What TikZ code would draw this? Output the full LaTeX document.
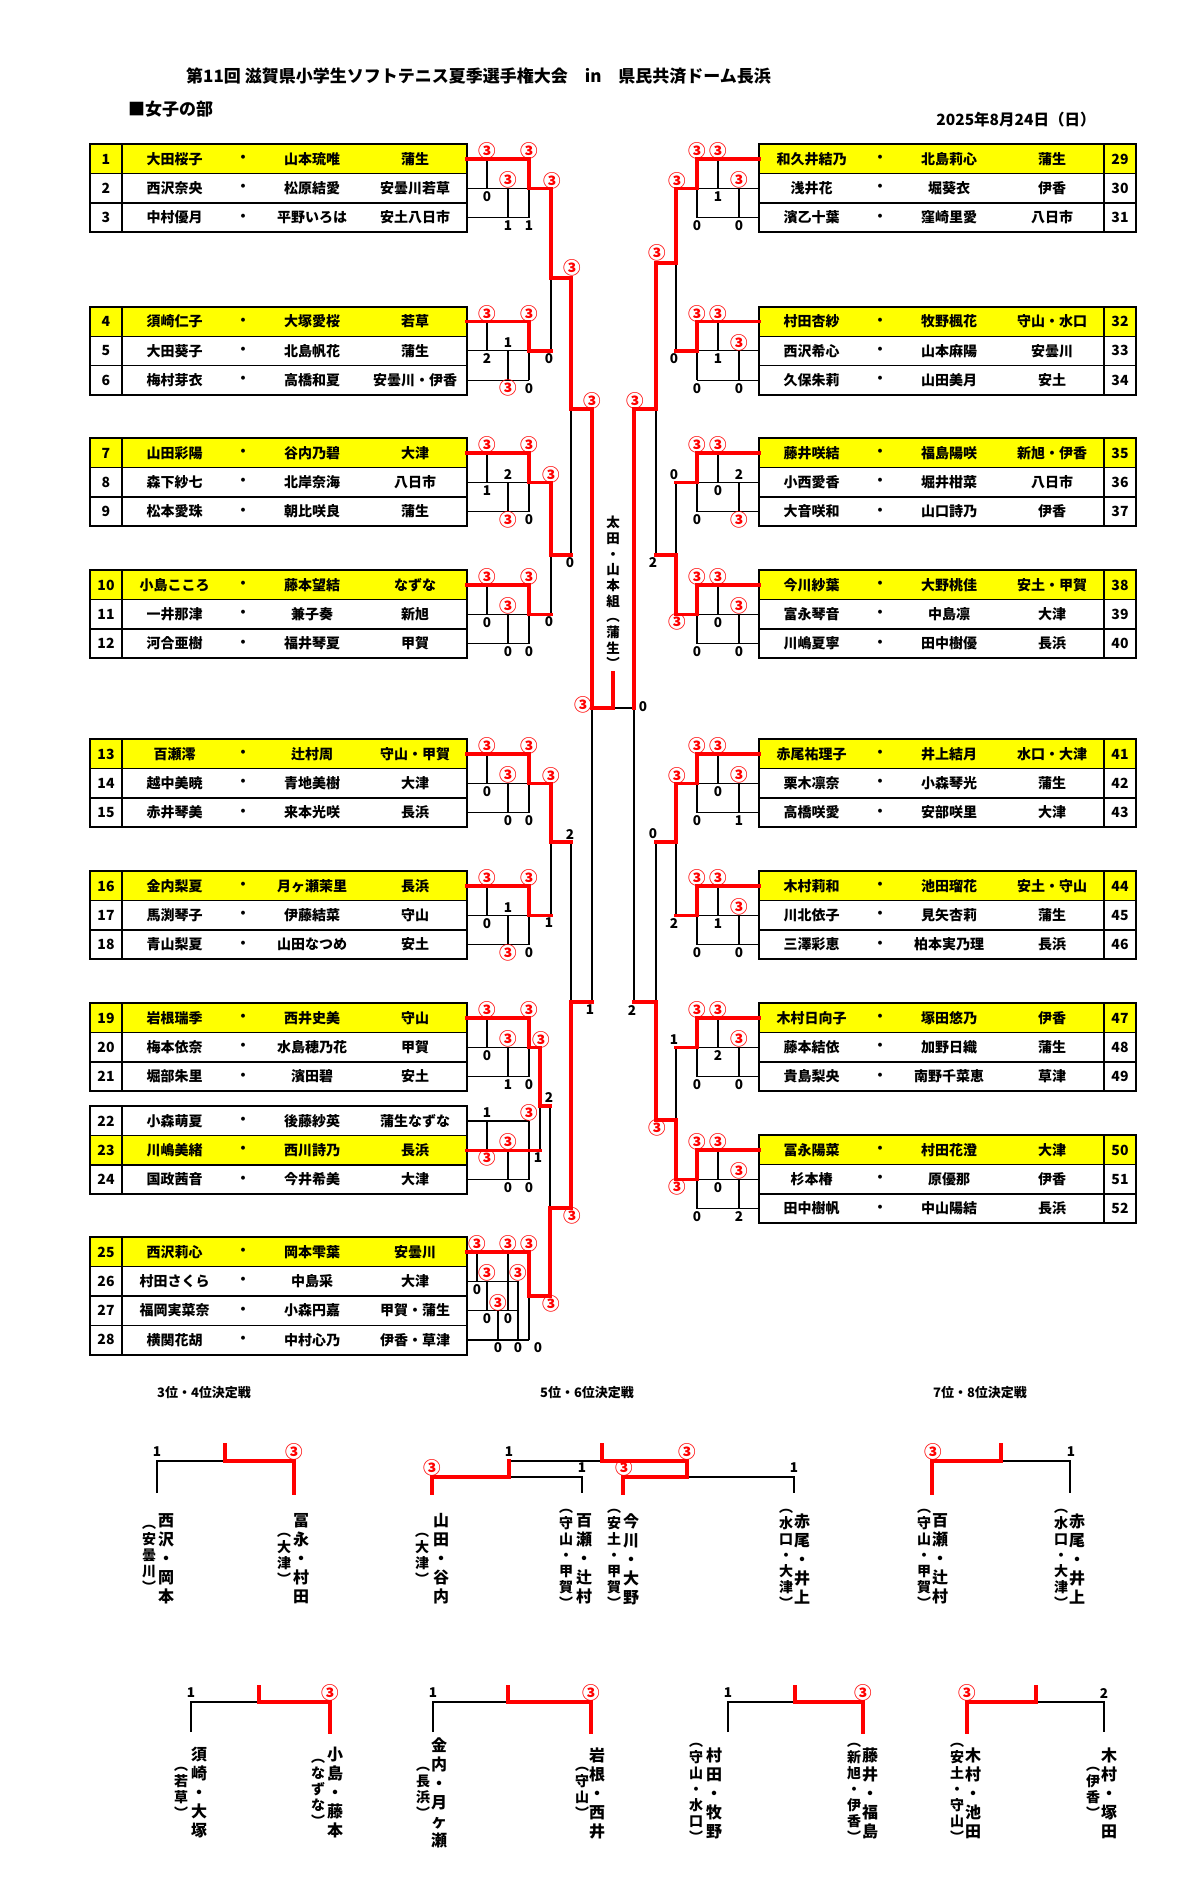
\documentclass[tikz,border=0pt]{standalone}
\usepackage{fontspec}
\newfontfamily\jp{Noto Sans CJK JP}
\usetikzlibrary{calc}
\definecolor{winred}{RGB}{255,0,0}
\definecolor{seed}{RGB}{255,255,0}
\tikzset{
  line/.style={black, line width=1.2pt},
  win/.style={winred, line width=3.5pt, line cap=rect},
  frame/.style={black, line width=2pt},
  tbl/.style={font=\jp\bfseries\fontsize{14}{16}\selectfont, inner sep=0pt},
  sc/.style={font=\jp\bfseries\fontsize{13.5}{15}\selectfont, inner sep=0pt},
  head/.style={font=\jp\bfseries\fontsize{17}{20}\selectfont, inner sep=0pt},
  sub/.style={font=\jp\bfseries\fontsize{13}{15}\selectfont, inner sep=0pt},
  champ/.style={font=\jp\bfseries\fontsize{13.5}{15.7}\selectfont, align=center, inner sep=0pt},
  vname/.style={font=\jp\bfseries\fontsize{16}{19}\selectfont, align=center, inner sep=0pt},
  vteam/.style={font=\jp\bfseries\fontsize{14}{16}\selectfont, align=center, inner sep=0pt}
}
\newcommand{\wthree}{\textcolor{winred}{\fontsize{17.5}{18}\selectfont ③}}
% table rows: number, y, player, partner, team, fill
\newcommand{\lrow}[6]{%
  \filldraw[fill=#6, draw=black, line width=1.2pt] (90,{#2-14.65}) rectangle (467,{#2+14.65});
  \draw[line] (122,{#2-14.65}) -- (122,{#2+14.65});
  \node[tbl] (no#1) at (106,#2) {#1};
  \node[tbl] (pa#1) at (174.5,#2) {#3};
  \node[tbl] (dt#1) at (243,#2) {・};
  \node[tbl] (pb#1) at (312,#2) {#4};
  \node[tbl] (tm#1) at (415,#2) {#5};
}
\newcommand{\rrow}[6]{%
  \filldraw[fill=#6, draw=black, line width=1.2pt] (759,{#2-14.65}) rectangle (1136,{#2+14.65});
  \draw[line] (1104,{#2-14.65}) -- (1104,{#2+14.65});
  \node[tbl] (no#1) at (1120,#2) {#1};
  \node[tbl] (pa#1) at (811.5,#2) {#3};
  \node[tbl] (dt#1) at (880,#2) {・};
  \node[tbl] (pb#1) at (949,#2) {#4};
  \node[tbl] (tm#1) at (1052,#2) {#5};
}
\newcommand{\lframe}[2]{\draw[frame] (90,{#1-14.65}) rectangle (467,{#2+14.65});}
\newcommand{\rframe}[2]{\draw[frame] (759,{#1-14.65}) rectangle (1136,{#2+14.65});}
% league of three, left side: tag, y of first row, scores, exit x
\newcommand{\lgrp}[9]{%
  \draw[line] (467,{#2+29.3}) -- (529,{#2+29.3}) (467,{#2+58.6}) -- (529,{#2+58.6})
    (487,#2) -- (487,{#2+29.3}) (508,{#2+29.3}) -- (508,{#2+58.6}) (529,{#2+29.3}) -- (529,{#2+58.6});
  \draw[win] (467,#2) -- (529,#2) -- (529,{#2+29.3}) -- (#9,{#2+29.3});
  \node[sc] (#1at) at (487,{#2-8}) {#3};
  \node[sc] (#1ab) at (487,{#2+37.3}) {#4};
  \node[sc] (#1bt) at (508,{#2+21.3}) {#5};
  \node[sc] (#1bb) at (508,{#2+66.6}) {#6};
  \node[sc] (#1ct) at (529,{#2-8}) {#7};
  \node[sc] (#1cb) at (529,{#2+66.6}) {#8};
}
% league of three, right side: tag, y of first row, scores
\newcommand{\rgrp}[8]{%
  \draw[line] (759,{#2+29.3}) -- (697,{#2+29.3}) (759,{#2+58.6}) -- (697,{#2+58.6})
    (718,#2) -- (718,{#2+29.3}) (739,{#2+29.3}) -- (739,{#2+58.6}) (697,{#2+29.3}) -- (697,{#2+58.6});
  \draw[win] (759,#2) -- (697,#2) -- (697,{#2+29.3}) -- (676,{#2+29.3});
  \node[sc] (#1pt) at (697,{#2-8}) {#3};
  \node[sc] (#1pb) at (697,{#2+66.6}) {#4};
  \node[sc] (#1qt) at (718,{#2-8}) {#5};
  \node[sc] (#1qb) at (718,{#2+37.3}) {#6};
  \node[sc] (#1rt) at (739,{#2+21.3}) {#7};
  \node[sc] (#1rb) at (739,{#2+66.6}) {#8};
}

\begin{document}
\begin{tikzpicture}[x=1pt,y=-1pt]
\useasboundingbox (0,0) rectangle (1200,1892);
\fill[white] (0,0) rectangle (1200,1892);

% heading
\node[head, anchor=west] (title) at (186,76) {第11回 滋賀県小学生ソフトテニス夏季選手権大会　in　県民共済ドーム長浜};
\node[head, anchor=west] (part) at (128,109) {■女子の部};
\node[sub, font=\jp\bfseries\fontsize{15.5}{17}\selectfont] (day) at (1016,120) {2025年8月24日（日）};

% left tables
\lrow{1}{159}{大田桜子}{山本琉唯}{蒲生}{seed}
\lrow{2}{188.3}{西沢奈央}{松原結愛}{安曇川若草}{white}
\lrow{3}{217.6}{中村優月}{平野いろは}{安土八日市}{white}
\lframe{159}{217.6}
\lrow{4}{321.5}{須崎仁子}{大塚愛桜}{若草}{seed}
\lrow{5}{350.8}{大田葵子}{北島帆花}{蒲生}{white}
\lrow{6}{380.1}{梅村芽衣}{高橋和夏}{安曇川・伊香}{white}
\lframe{321.5}{380.1}
\lrow{7}{453}{山田彩陽}{谷内乃碧}{大津}{seed}
\lrow{8}{482.3}{森下紗七}{北岸奈海}{八日市}{white}
\lrow{9}{511.6}{松本愛珠}{朝比咲良}{蒲生}{white}
\lframe{453}{511.6}
\lrow{10}{585}{小島こころ}{藤本望結}{なずな}{seed}
\lrow{11}{614.3}{一井那津}{兼子奏}{新旭}{white}
\lrow{12}{643.6}{河合亜樹}{福井琴夏}{甲賀}{white}
\lframe{585}{643.6}
\lrow{13}{754}{百瀬澪}{辻村周}{守山・甲賀}{seed}
\lrow{14}{783.3}{越中美暁}{青地美樹}{大津}{white}
\lrow{15}{812.6}{赤井琴美}{来本光咲}{長浜}{white}
\lframe{754}{812.6}
\lrow{16}{886}{金内梨夏}{月ヶ瀬茉里}{長浜}{seed}
\lrow{17}{915.3}{馬渕琴子}{伊藤結菜}{守山}{white}
\lrow{18}{944.6}{青山梨夏}{山田なつめ}{安土}{white}
\lframe{886}{944.6}
\lrow{19}{1018}{岩根瑞季}{西井史美}{守山}{seed}
\lrow{20}{1047.3}{梅本依奈}{水島穂乃花}{甲賀}{white}
\lrow{21}{1076.6}{堀部朱里}{濱田碧}{安土}{white}
\lframe{1018}{1076.6}
\lrow{22}{1121}{小森萌夏}{後藤紗英}{蒲生なずな}{white}
\lrow{23}{1150.3}{川嶋美緒}{西川詩乃}{長浜}{seed}
\lrow{24}{1179.6}{国政茜音}{今井希美}{大津}{white}
\lframe{1121}{1179.6}
\lrow{25}{1252}{西沢莉心}{岡本雫葉}{安曇川}{seed}
\lrow{26}{1281.3}{村田さくら}{中島采}{大津}{white}
\lrow{27}{1310.6}{福岡実菜奈}{小森円嘉}{甲賀・蒲生}{white}
\lrow{28}{1339.9}{横関花胡}{中村心乃}{伊香・草津}{white}
\lframe{1252}{1339.9}

% right tables
\rrow{29}{159}{和久井結乃}{北島莉心}{蒲生}{seed}
\rrow{30}{188.3}{浅井花}{堀葵衣}{伊香}{white}
\rrow{31}{217.6}{濱乙十葉}{窪崎里愛}{八日市}{white}
\rframe{159}{217.6}
\rrow{32}{321.5}{村田杏紗}{牧野楓花}{守山・水口}{seed}
\rrow{33}{350.8}{西沢希心}{山本麻陽}{安曇川}{white}
\rrow{34}{380.1}{久保朱莉}{山田美月}{安土}{white}
\rframe{321.5}{380.1}
\rrow{35}{453}{藤井咲結}{福島陽咲}{新旭・伊香}{seed}
\rrow{36}{482.3}{小西愛香}{堀井柑菜}{八日市}{white}
\rrow{37}{511.6}{大音咲和}{山口詩乃}{伊香}{white}
\rframe{453}{511.6}
\rrow{38}{585}{今川紗葉}{大野桃佳}{安土・甲賀}{seed}
\rrow{39}{614.3}{富永琴音}{中島凛}{大津}{white}
\rrow{40}{643.6}{川嶋夏寧}{田中樹優}{長浜}{white}
\rframe{585}{643.6}
\rrow{41}{754}{赤尾祐理子}{井上結月}{水口・大津}{seed}
\rrow{42}{783.3}{栗木凛奈}{小森琴光}{蒲生}{white}
\rrow{43}{812.6}{高橋咲愛}{安部咲里}{大津}{white}
\rframe{754}{812.6}
\rrow{44}{886}{木村莉和}{池田瑠花}{安土・守山}{seed}
\rrow{45}{915.3}{川北依子}{見矢杏莉}{蒲生}{white}
\rrow{46}{944.6}{三澤彩恵}{柏本実乃理}{長浜}{white}
\rframe{886}{944.6}
\rrow{47}{1018}{木村日向子}{塚田悠乃}{伊香}{seed}
\rrow{48}{1047.3}{藤本結依}{加野日織}{蒲生}{white}
\rrow{49}{1076.6}{貴島梨央}{南野千菜恵}{草津}{white}
\rframe{1018}{1076.6}
\rrow{50}{1150}{冨永陽菜}{村田花澄}{大津}{seed}
\rrow{51}{1179.3}{杉本椿}{原優那}{伊香}{white}
\rrow{52}{1208.6}{田中樹帆}{中山陽結}{長浜}{white}
\rframe{1150}{1208.6}

% knockout, black parts
\draw[line] (551,278) -- (551,350.8) (551,555) -- (551,614.3) (571,409) -- (571,555)
  (551,842) -- (551,915.3) (571,842) -- (571,1002) (540,1106) -- (540,1150.3)
  (550,1106) -- (550,1208) (592,708) -- (592,1002);
\draw[line] (676,263) -- (676,350.8) (676,482.3) -- (676,555) (656,409) -- (656,555)
  (676,842) -- (676,915.3) (676,1047.3) -- (676,1120) (656,842) -- (656,1002)
  (613,708) -- (634,708) (634,708) -- (634,1002);

% leagues
\lgrp{A}{159}{\wthree}{0}{\wthree}{1}{\wthree}{1}{551}
\lgrp{B}{321.5}{\wthree}{2}{1}{\wthree}{\wthree}{0}{551}
\lgrp{C}{453}{\wthree}{1}{2}{\wthree}{\wthree}{0}{551}
\lgrp{D}{585}{\wthree}{0}{\wthree}{0}{\wthree}{0}{551}
\lgrp{E}{754}{\wthree}{0}{\wthree}{0}{\wthree}{0}{551}
\lgrp{F}{886}{\wthree}{0}{1}{\wthree}{\wthree}{0}{551}
\lgrp{G}{1018}{\wthree}{0}{\wthree}{1}{\wthree}{0}{540}

% league 22-24
\draw[line] (467,1121) -- (529,1121) (467,1179.6) -- (529,1179.6)
  (487,1121) -- (487,1150.3) (508,1150.3) -- (508,1179.6) (529,1121) -- (529,1179.6);
\draw[win] (467,1150.3) -- (540,1150.3);
\node[sc] (Hat) at (487,1113) {1};
\node[sc] (Hab) at (487,1158) {\wthree};
\node[sc] (Hbt) at (508,1142) {\wthree};
\node[sc] (Hbb) at (508,1187.6) {0};
\node[sc] (Hct) at (529,1113) {\wthree};
\node[sc] (Hcb) at (529,1187.6) {0};

% league 25-28
\draw[line] (467,1281.3) -- (518,1281.3) (467,1310.6) -- (518,1310.6) (467,1339.9) -- (529,1339.9)
  (477,1252) -- (477,1281.3) (487,1281.3) -- (487,1310.6) (498,1310.6) -- (498,1339.9)
  (508,1252) -- (508,1310.6) (518,1281.3) -- (518,1339.9) (529,1296) -- (529,1339.9);
\draw[win] (467,1252) -- (529,1252) -- (529,1296) -- (550,1296);
\node[sc] (Iat) at (477,1244) {\wthree};
\node[sc] (Iab) at (477,1289.3) {0};
\node[sc] (Ibt) at (487,1273.3) {\wthree};
\node[sc] (Ibb) at (487,1318.6) {0};
\node[sc] (Ict) at (498,1302.6) {\wthree};
\node[sc] (Icb) at (498,1347.9) {0};
\node[sc] (Idt) at (508,1244) {\wthree};
\node[sc] (Idb) at (508,1318.6) {0};
\node[sc] (Iet) at (518,1273.3) {\wthree};
\node[sc] (Ieb) at (518,1347.9) {0};
\node[sc] (Ift) at (529,1244) {\wthree};
\node[sc] (Ifb) at (538,1347.9) {0};

\rgrp{R}{159}{\wthree}{0}{\wthree}{1}{\wthree}{0}
\rgrp{S}{321.5}{\wthree}{0}{\wthree}{1}{\wthree}{0}
\rgrp{T}{453}{\wthree}{0}{\wthree}{0}{2}{\wthree}
\rgrp{U}{585}{\wthree}{0}{\wthree}{0}{\wthree}{0}
\rgrp{V}{754}{\wthree}{0}{\wthree}{0}{\wthree}{1}
\rgrp{W}{886}{\wthree}{0}{\wthree}{1}{\wthree}{0}
\rgrp{X}{1018}{\wthree}{0}{\wthree}{2}{\wthree}{0}
\rgrp{Y}{1150}{\wthree}{0}{\wthree}{0}{\wthree}{2}

% knockout, winners
\draw[win] (551,188.3) -- (551,278) -- (571,278) -- (571,409) -- (592,409) -- (592,708) -- (613,708) -- (613,673);
\draw[win] (551,482.3) -- (551,555) -- (571,555);
\draw[win] (551,783.3) -- (551,842) -- (571,842);
\draw[win] (540,1047.3) -- (540,1106) -- (550,1106);
\draw[win] (550,1296) -- (550,1208) -- (571,1208) -- (571,1002) -- (592,1002);
\draw[win] (676,188.3) -- (676,263) -- (656,263) -- (656,409) -- (634,409) -- (634,708);
\draw[win] (676,614.3) -- (676,555) -- (656,555);
\draw[win] (676,783.3) -- (676,842) -- (656,842);
\draw[win] (676,1179.3) -- (676,1120) -- (656,1120) -- (656,1002) -- (634,1002);

\node[sc] (k1) at (552,181) {\wthree};
\node[sc] (k2) at (549,358.5) {0};
\node[sc] (k3) at (551,474.5) {\wthree};
\node[sc] (k4) at (549,622) {0};
\node[sc] (k5) at (572,268) {\wthree};
\node[sc] (k6) at (570,562.5) {0};
\node[sc] (k7) at (551,775.5) {\wthree};
\node[sc] (k8) at (549,923) {1};
\node[sc] (k9) at (541,1039.5) {\wthree};
\node[sc] (k10) at (538,1158) {1};
\node[sc] (k11) at (549,1097.5) {2};
\node[sc] (k12) at (551,1303.5) {\wthree};
\node[sc] (k13) at (570,834) {2};
\node[sc] (k14) at (572,1215.5) {\wthree};
\node[sc] (k15) at (592,401) {\wthree};
\node[sc] (k16) at (590,1010) {1};
\node[sc] (k17) at (583,705) {\wthree};
\node[sc] (k18) at (677,181) {\wthree};
\node[sc] (k19) at (674,358.5) {0};
\node[sc] (k20) at (674,475) {0};
\node[sc] (k21) at (677,622) {\wthree};
\node[sc] (k22) at (657,253) {\wthree};
\node[sc] (k23) at (653,562.5) {2};
\node[sc] (k24) at (677,775.5) {\wthree};
\node[sc] (k25) at (674,923) {2};
\node[sc] (k26) at (674,1040) {1};
\node[sc] (k27) at (677,1186.5) {\wthree};
\node[sc] (k28) at (653,834) {0};
\node[sc] (k29) at (657,1127.5) {\wthree};
\node[sc] (k30) at (635,401) {\wthree};
\node[sc] (k31) at (632,1010) {2};
\node[sc] (k32) at (643,707) {0};

% champion
\node[champ] (champ) at (613,592.5) {太\\田\\・\\山\\本\\組\\︵\\蒲\\生\\︶};

% placing matches, first row
\node[sub] (l34) at (204,1393) {3位・4位決定戦};
\node[sub] (l56) at (587,1393) {5位・6位決定戦};
\node[sub] (l78) at (980,1393) {7位・8位決定戦};

\draw[line] (157,1493) -- (157,1461) -- (225,1461);
\draw[win] (225,1445) -- (225,1461) -- (294,1461) -- (294,1493);
\node[sc] (p1) at (157,1452) {1};
\node[sc] (p2) at (294,1452) {\wthree};

\draw[line] (509,1477) -- (582,1477) -- (582,1493) (509,1461) -- (602,1461) (687,1477) -- (794,1477) -- (794,1493);
\draw[win] (432,1493) -- (432,1477) -- (509,1477) -- (509,1461);
\draw[win] (602,1445) -- (602,1461) -- (687,1461) -- (687,1477);
\draw[win] (623,1493) -- (623,1477) -- (687,1477);
\node[sc] (p3) at (432,1467.5) {\wthree};
\node[sc] (p4) at (582,1467.5) {1};
\node[sc] (p5) at (509,1452) {1};
\node[sc] (p6) at (687,1452) {\wthree};
\node[sc] (p7) at (624,1467.5) {\wthree};
\node[sc] (p8) at (794,1467.5) {1};

\draw[line] (1001,1461) -- (1070,1461) -- (1070,1493);
\draw[win] (932,1493) -- (932,1461) -- (1001,1461) -- (1001,1445);
\node[sc] (p9) at (933,1452) {\wthree};
\node[sc] (p10) at (1071,1452) {1};

\node[vname] (n1) at (166,1559) {西\\沢\\・\\岡\\本};
\node[vteam] (t1) at (149,1559) {︵\\安\\曇\\川\\︶};
\node[vname] (n2) at (301,1559) {冨\\永\\・\\村\\田};
\node[vteam] (t2) at (284,1559) {︵\\大\\津\\︶};
\node[vname] (n3) at (441,1559) {山\\田\\・\\谷\\内};
\node[vteam] (t3) at (422,1559) {︵\\大\\津\\︶};
\node[vname] (n4) at (584,1559) {百\\瀬\\・\\辻\\村};
\node[vteam] (t4) at (566,1559) {︵\\守\\山\\・\\甲\\賀\\︶};
\node[vname] (n5) at (631,1559) {今\\川\\・\\大\\野};
\node[vteam] (t5) at (614,1559) {︵\\安\\土\\・\\甲\\賀\\︶};
\node[vname] (n6) at (802,1559) {赤\\尾\\・\\井\\上};
\node[vteam] (t6) at (786,1559) {︵\\水\\口\\・\\大\\津\\︶};
\node[vname] (n7) at (940,1559) {百\\瀬\\・\\辻\\村};
\node[vteam] (t7) at (924,1559) {︵\\守\\山\\・\\甲\\賀\\︶};
\node[vname] (n8) at (1077,1559) {赤\\尾\\・\\井\\上};
\node[vteam] (t8) at (1061,1559) {︵\\水\\口\\・\\大\\津\\︶};

% placing matches, second row
\draw[line] (191,1732) -- (191,1702) -- (259,1702);
\draw[win] (259,1687) -- (259,1702) -- (330,1702) -- (330,1732);
\draw[line] (433,1732) -- (433,1702) -- (508,1702);
\draw[win] (508,1687) -- (508,1702) -- (591,1702) -- (591,1732);
\draw[line] (728,1732) -- (728,1702) -- (795,1702);
\draw[win] (795,1687) -- (795,1702) -- (863,1702) -- (863,1732);
\draw[line] (1036,1702) -- (1104,1702) -- (1104,1732);
\draw[win] (967,1732) -- (967,1702) -- (1036,1702) -- (1036,1687);
\node[sc] (q1) at (191,1693) {1};
\node[sc] (q2) at (330,1693) {\wthree};
\node[sc] (q3) at (433,1693) {1};
\node[sc] (q4) at (591,1693) {\wthree};
\node[sc] (q5) at (728,1693) {1};
\node[sc] (q6) at (863,1693) {\wthree};
\node[sc] (q7) at (967,1693) {\wthree};
\node[sc] (q8) at (1104,1693) {2};

\node[vname] (m1) at (199,1793) {須\\崎\\・\\大\\塚};
\node[vteam] (u1) at (181,1793) {︵\\若\\草\\︶};
\node[vname] (m2) at (335,1793) {小\\島\\・\\藤\\本};
\node[vteam] (u2) at (318,1793) {︵\\な\\ず\\な\\︶};
\node[vname] (m3) at (439,1793) {金\\内\\・\\月\\ヶ\\瀬};
\node[vteam] (u3) at (423,1793) {︵\\長\\浜\\︶};
\node[vname] (m4) at (597,1793) {岩\\根\\・\\西\\井};
\node[vteam] (u4) at (582,1793) {︵\\守\\山\\︶};
\node[vname] (m5) at (714,1793) {村\\田\\・\\牧\\野};
\node[vteam] (u5) at (696,1793) {︵\\守\\山\\・\\水\\口\\︶};
\node[vname] (m6) at (870,1793) {藤\\井\\・\\福\\島};
\node[vteam] (u6) at (854,1793) {︵\\新\\旭\\・\\伊\\香\\︶};
\node[vname] (m7) at (973,1793) {木\\村\\・\\池\\田};
\node[vteam] (u7) at (957,1793) {︵\\安\\土\\・\\守\\山\\︶};
\node[vname] (m8) at (1109,1793) {木\\村\\・\\塚\\田};
\node[vteam] (u8) at (1093,1793) {︵\\伊\\香\\︶};
\end{tikzpicture}
\end{document}
